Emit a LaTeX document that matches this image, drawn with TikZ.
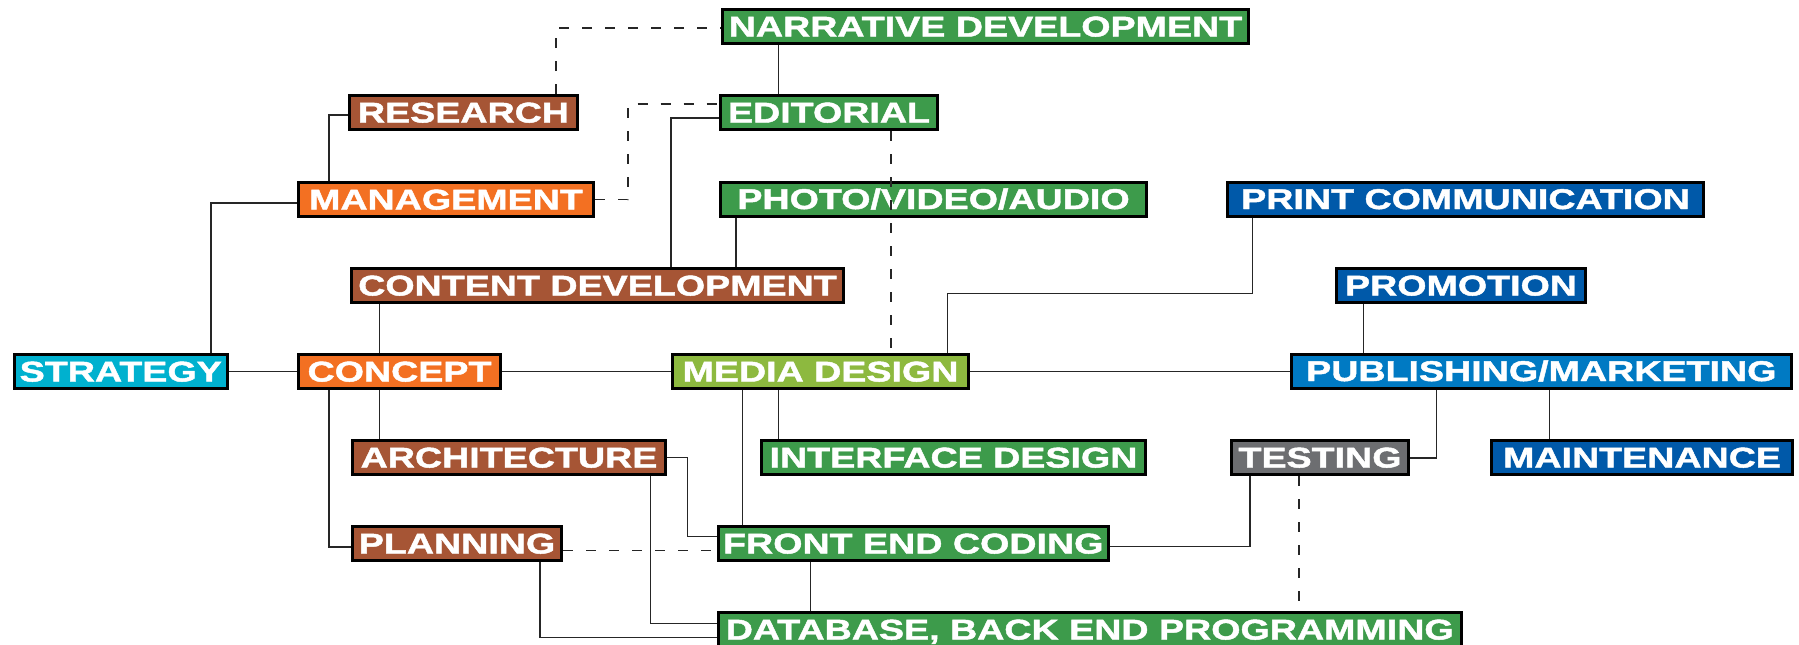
\documentclass[tikz,border=0pt]{standalone}
\usepackage{fontspec}
\newfontfamily\boxfont{Liberation Sans}[FakeStretch=1.32, FakeBold=1.6]
\definecolor{cgreen}{HTML}{3D9B4B}
\definecolor{cbrown}{HTML}{A65535}
\definecolor{corange}{HTML}{F37022}
\definecolor{ccyan}{HTML}{00B1CF}
\definecolor{clime}{HTML}{8DB93F}
\definecolor{cdblue}{HTML}{0059A9}
\definecolor{cmblue}{HTML}{007AC3}
\definecolor{cgray}{HTML}{6D6E71}
\tikzset{
  tag/.style={draw=black, line width=3pt, inner sep=0pt, text=white,
    font=\boxfont\bfseries\fontsize{28.5}{28.5}\selectfont,
    text height=20pt, text depth=0pt, minimum height=34pt, anchor=center},
  conn/.style={line width=1.5pt, draw=black!85},
  dconn/.style={line width=1.5pt, draw=black!85, dash pattern=on 10pt off 13pt}
}
\begin{document}
\begin{tikzpicture}[x=1pt,y=-1pt]
\useasboundingbox (0,0) rectangle (1799,645);
% nodes
\node[tag, fill=cgreen, minimum width=526pt] (narrative) at (985.5,26.5) {NARRATIVE DEVELOPMENT};
\node[tag, fill=cbrown, minimum width=228pt] (research) at (463.5,112.5) {RESEARCH};
\node[tag, fill=cgreen, minimum width=217pt] (editorial) at (829,112.5) {EDITORIAL};
\node[tag, fill=corange, minimum width=295pt] (management) at (446,199.5) {MANAGEMENT};
\node[tag, fill=cgreen, minimum width=426pt] (photo) at (933.5,199) {PHOTO/VIDEO/AUDIO};
\node[tag, fill=cdblue, minimum width=476pt] (print) at (1465.5,199) {PRINT COMMUNICATION};
\node[tag, fill=cbrown, minimum width=492pt] (content) at (597.5,285.5) {CONTENT DEVELOPMENT};
\node[tag, fill=cdblue, minimum width=249pt] (promotion) at (1461,285.5) {PROMOTION};
\node[tag, fill=ccyan, minimum width=213.5pt] (strategy) at (120.75,371.5) {STRATEGY};
\node[tag, fill=corange, minimum width=202pt] (concept) at (399.5,371.5) {CONCEPT};
\node[tag, fill=clime, minimum width=296pt] (media) at (820.5,371.5) {MEDIA DESIGN};
\node[tag, fill=cmblue, minimum width=499.5pt] (publishing) at (1541.25,371) {PUBLISHING/MARKETING};
\node[tag, fill=cbrown, minimum width=313pt] (architecture) at (509,457.5) {ARCHITECTURE};
\node[tag, fill=cgreen, minimum width=384pt] (interface) at (953.5,457.5) {INTERFACE DESIGN};
\node[tag, fill=cgray, minimum width=177pt] (testing) at (1320,457.5) {TESTING};
\node[tag, fill=cdblue, minimum width=301pt] (maintenance) at (1642,457.5) {MAINTENANCE};
\node[tag, fill=cbrown, minimum width=209pt] (planning) at (457,543.5) {PLANNING};
\node[tag, fill=cgreen, minimum width=390.5pt] (frontend) at (913.25,543.5) {FRONT END CODING};
\node[tag, fill=cgreen, minimum width=743.5pt] (database) at (1089.75,629.5) {DATABASE, BACK END PROGRAMMING};
% solid connectors
\draw[conn] (strategy.east) -- (concept.west);
\draw[conn] (concept.east) -- (media.west);
\draw[conn] (media.east) -- (publishing.west |- 0,371.5);
\draw[conn] (strategy.north -| 211,0) |- (management.west |- 0,203);
\draw[conn] (management.north -| 329,0) |- (research.west |- 0,115);
\draw[conn] (narrative.south -| 778.6,0) -- (editorial.north -| 778.6,0);
\draw[conn] (content.north -| 671,0) |- (editorial.west |- 0,118);
\draw[conn] (photo.south -| 736,0) -- (content.north -| 736,0);
\draw[conn] (print.south -| 1252.6,0) |- (947.3,293.3) -- (media.north -| 947.3,0);
\draw[conn] (content.south -| 379.5,0) -- (concept.north -| 379.5,0);
\draw[conn] (concept.south -| 379.5,0) -- (architecture.north -| 379.5,0);
\draw[conn] (concept.south -| 329,0) |- (planning.west |- 0,547);
\draw[conn] (promotion.south -| 1363.6,0) -- (publishing.north -| 1363.6,0);
\draw[conn] (publishing.south -| 1436.4,0) |- (testing.east |- 0,458);
\draw[conn] (publishing.south -| 1549.4,0) -- (maintenance.north -| 1549.4,0);
\draw[conn] (media.south -| 778.5,0) -- (interface.north -| 778.5,0);
\draw[conn] (media.south -| 742.4,0) -- (frontend.north -| 742.4,0);
\draw[conn] (architecture.east |- 0,457.7) -| (687.4,536.7) -- (frontend.west |- 0,536.7);
\draw[conn] (architecture.south -| 650.7,0) |- (database.west |- 0,623.3);
\draw[conn] (planning.south -| 540,0) |- (database.west |- 0,637.3);
\draw[conn] (frontend.east |- 0,546.3) -| (testing.south -| 1249.8,0);
\draw[conn] (frontend.south -| 810.7,0) -- (database.north -| 810.7,0);
% dashed connectors
\draw[dconn] (research.north -| 556,0) |- (narrative.west |- 0,28);
\draw[dconn] (management.east) -| (628,104) -- (editorial.west |- 0,104);
\draw[dconn] (editorial.south -| 891,0) -- (media.north -| 891,0);
\draw[dconn] (planning.east |- 0,550.3) -- (frontend.west |- 0,550.3);
\draw[dconn] (testing.south -| 1299,0) -- (database.north -| 1299,0);
\end{tikzpicture}
\end{document}
